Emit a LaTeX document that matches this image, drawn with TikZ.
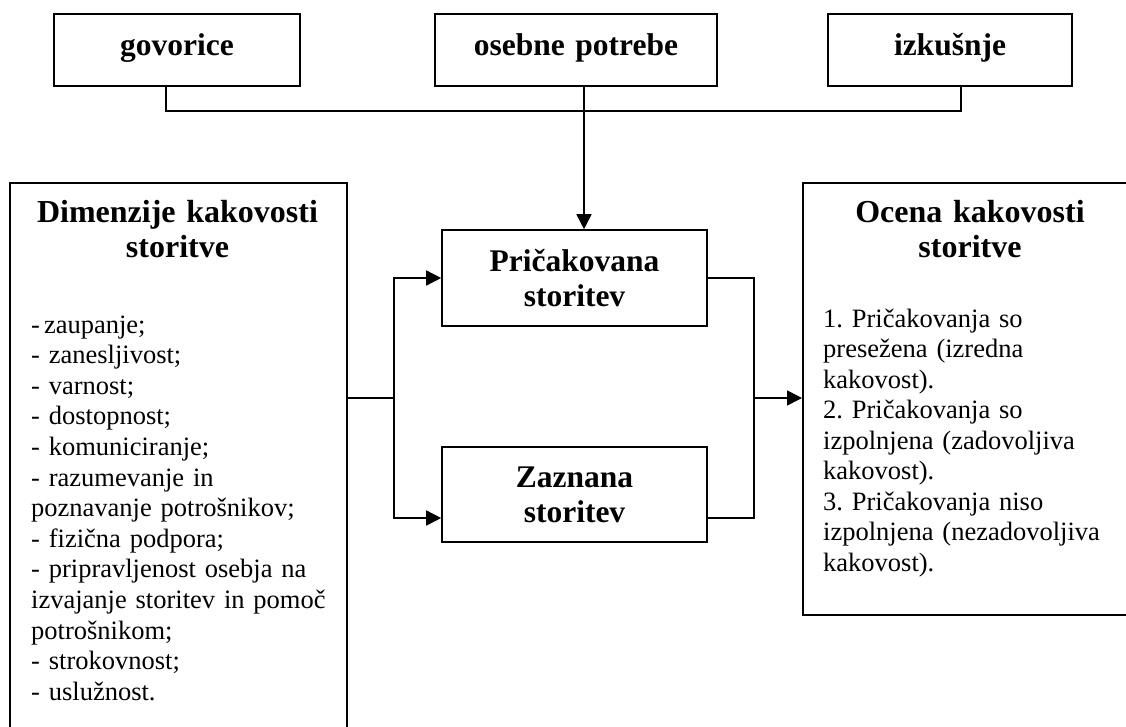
\documentclass[tikz,border=0pt]{standalone}
\usepackage{fontspec}
\setmainfont{Liberation Serif}
\usetikzlibrary{arrows.meta}
\frenchspacing
\tikzset{
  box/.style={draw, line width=1.6pt, inner sep=0pt},
  head/.style={font=\fontsize{31.5}{35.5}\selectfont\bfseries, text width=300pt, align=center, inner sep=0pt, anchor=base},
  headtwo/.style={font=\fontsize{32}{34.5}\selectfont\bfseries, text width=330pt, align=center, inner sep=0pt, anchor=base},
  bodytxt/.style={font=\fontsize{26.5}{30.6}\selectfont, text width=330pt, align=left, inner sep=0pt, anchor=base west},
  conn/.style={line width=1.6pt},
  arr/.style={line width=1.6pt, -{Triangle[length=15pt,width=15pt]}}
}
\begin{document}
\frenchspacing
\begin{tikzpicture}[x=1pt,y=1pt]
\useasboundingbox (0,0) rectangle (1126,-727);
\fill[white] (0,0) rectangle (1126,-727);

% top boxes
\node[box, minimum width=246pt, minimum height=72pt] (gov) at (177,-50) {};
\node[head, text width=240pt] (govt) at (177,-56) {govorice};
\node[box, minimum width=282pt, minimum height=72pt] (ose) at (576,-50) {};
\node[head, text width=280pt] (oset) at (576,-56) {osebne potrebe};
\node[box, minimum width=244pt, minimum height=72pt] (izk) at (950,-50) {};
\node[head, text width=240pt] (izkt) at (950,-56) {izkušnje};

% middle boxes
\node[box, minimum width=265pt, minimum height=96pt] (pric) at (574.5,-278) {};
\node[head, text width=260pt] (prict) at (574.5,-271) {Pričakovana\\storitev};
\node[box, minimum width=265pt, minimum height=95pt] (zaz) at (574.5,-494.5) {};
\node[head, text width=260pt] (zazt) at (574.5,-487) {Zaznana\\storitev};

% left box
\node[box, anchor=north west, minimum width=337pt, minimum height=600pt] (dim) at (9,-182) {};
\node[headtwo] (dimt) at (177.5,-223) {Dimenzije kakovosti\\storitve};
\node[bodytxt] (dimb) at (31,-333) {-\hspace{4pt}zaupanje;\\
- zanesljivost;\\
- varnost;\\
- dostopnost;\\
- komuniciranje;\\
- razumevanje in\\
poznavanje potrošnikov;\\
- fizična podpora;\\
- pripravljenost osebja na\\
izvajanje storitev in pomoč\\
potrošnikom;\\
- strokovnost;\\
- uslužnost.};

% right box
\node[box, anchor=north west, minimum width=340pt, minimum height=432pt] (oce) at (802,-182) {};
\node[headtwo, font=\fontsize{32}{35}\selectfont\bfseries] (ocet) at (970,-223) {Ocena kakovosti\\storitve};
\node[bodytxt, font=\fontsize{26.5}{30.5}\selectfont] (oceb) at (823,-327) {1. Pričakovanja so\\
presežena (izredna\\
kakovost).\\
2. Pričakovanja so\\
izpolnjena (zadovoljiva\\
kakovost).\\
3. Pričakovanja niso\\
izpolnjena (nezadovoljiva\\
kakovost).};

% connectors top
\draw[conn] ([xshift=-11pt]gov.south) -- ++(0,-24) -| ([xshift=11pt]izk.south);
\draw[arr] ([xshift=8pt]ose.south) -- ([xshift=9.5pt]pric.north);

% left connectors
\coordinate (lj) at (394,-398);
\draw[conn] (lj -| dim.east) -- (lj);
\draw[arr] (lj) |- (pric.west);
\draw[arr] (lj) |- ([yshift=-23.5pt]zaz.west);

% right connectors
\coordinate (rj) at (754,-398);
\draw[conn] (pric.east) -| (rj);
\draw[conn] ([yshift=-23.5pt]zaz.east) -| (rj);
\draw[arr] (rj) -- (rj -| oce.west);
\end{tikzpicture}
\end{document}
